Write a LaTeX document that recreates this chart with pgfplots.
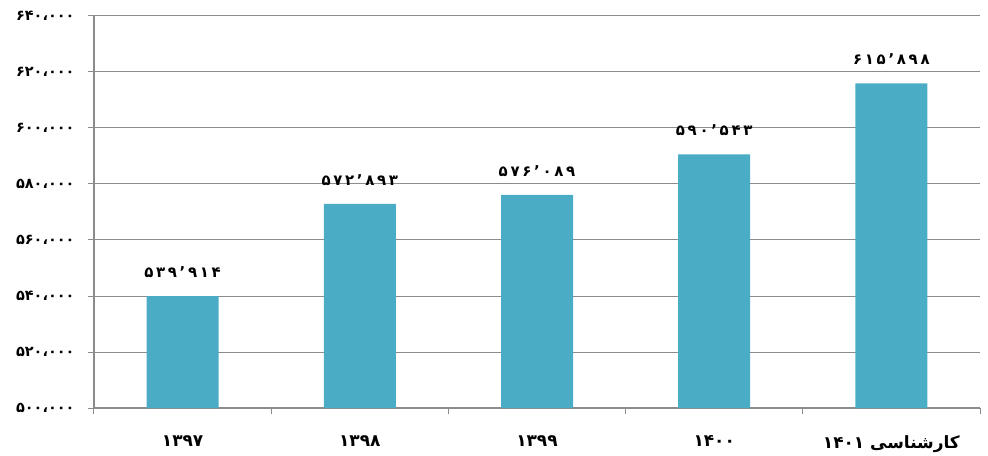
\documentclass[border=0pt]{standalone}
\usepackage{fontspec}
\usepackage{pgfplots}
\pgfplotsset{compat=1.18}
\TeXXeTstate=1
\newfontfamily\fa[Script=Arabic]{DejaVu Sans}
\newfontfamily\fanum{DejaVu Sans}
\newfontfamily\fanumsp[LetterSpace=18]{DejaVu Sans}
\definecolor{barblue}{HTML}{4BACC6}
\definecolor{gridgray}{HTML}{8C8C8C}
\begin{document}
\begin{tikzpicture}
\useasboundingbox (-94bp,-48bp) rectangle (894bp,408bp);
\begin{axis}[
    at={(0,0)}, anchor=south west,
    scale only axis,
    width=886bp, height=392bp,
    ybar, bar width=72bp,
    xmin=-0.5, xmax=4.5,
    ymin=500000, ymax=640000,
    ytick={500000,520000,...,640000},
    yticklabels={۵۰۰،۰۰۰,۵۲۰،۰۰۰,۵۴۰،۰۰۰,۵۶۰،۰۰۰,۵۸۰،۰۰۰,۶۰۰،۰۰۰,۶۲۰،۰۰۰,۶۴۰،۰۰۰},
    scaled y ticks=false,
    xtick={0,1,2,3,4},
    xticklabels={۱۳۹۷,۱۳۹۸,۱۳۹۹,۱۴۰۰,{\fa\beginR کارشناسی \beginL۱۴۰۱\endL\endR}},
    minor xtick={-0.5,0.5,1.5,2.5,3.5,4.5},
    major x tick style={draw=none},
    tick align=outside,
    major tick length=6bp, minor tick length=6bp,
    tick style={gridgray, line width=1bp},
    axis x line*=bottom, axis y line*=left,
    axis line style={gridgray, line width=1.5bp},
    ymajorgrids, grid style={gridgray, line width=1bp},
    yticklabel style={font=\fanum\bfseries\fontsize{14.5}{16}\selectfont, xshift=-10bp},
    xticklabel style={font=\fanum\bfseries\fontsize{17}{20}\selectfont, yshift=-18bp},
    nodes near coords,
    point meta=explicit symbolic,
    every node near coord/.append style={font=\fanumsp\bfseries\fontsize{15}{17}\selectfont, anchor=south, yshift=15bp, black},
]
\addplot[fill=barblue, draw=none] coordinates {
    (0,539914) [۵۳۹’۹۱۴]
    (1,572893) [۵۷۲’۸۹۳]
    (2,576089) [۵۷۶’۰۸۹]
    (3,590543) [۵۹۰’۵۴۳]
    (4,615898) [۶۱۵’۸۹۸]
};
\end{axis}
\end{tikzpicture}
\end{document}
